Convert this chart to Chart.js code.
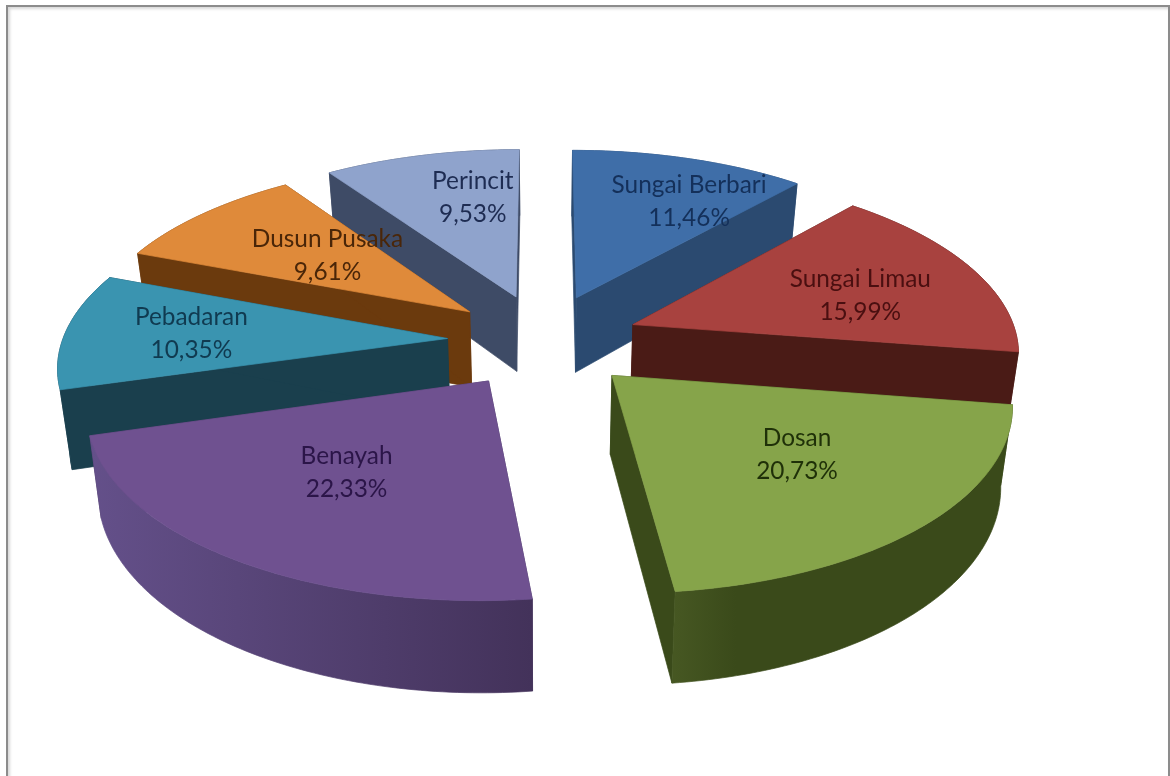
<!DOCTYPE html>
<html>
<head>
<meta charset="utf-8">
<script src="https://cdn.jsdelivr.net/npm/chart.js@4/dist/chart.umd.min.js"></script>
<style>
html,body{margin:0;padding:0;background:#fff;overflow:hidden}
#wrap{position:absolute;left:0;top:0;width:1170px;height:776px;background:#fff}
#frame{position:absolute;left:6px;top:5px;width:1160px;height:780px;border:2px solid #8c8c8c;box-shadow:inset 2px 2px 3px #d8d8d8}
canvas{position:absolute;left:0;top:0}
</style>
</head>
<body>
<div id="wrap"><div id="frame"></div><canvas id="c" width="1170" height="776"></canvas></div>
<script>
const categories = ["Sungai Berbari","Sungai Limau","Dosan","Benayah","Pebadaran","Dusun Pusaka","Perincit"];
const percentValues = [11.46,15.99,20.73,22.33,10.35,9.61,9.53];
const percentLabels = ["11,46%","15,99%","20,73%","22,33%","10,35%","9,61%","9,53%"];
const topColors  = ["#3f6ea8","#a8423f","#86a44a","#6f5190","#3a94b0","#df8a3a","#8fa3cc"];
const wallColors = ["#2b4a70","#4a1b16","#3a4a1a","#483760","#1a3f4d","#6b3a0d","#3e4b66"];
const outerStart = ["#2b4a70","#4a1b16","#465722","#64508a","#1a3f4d","#6b3a0d","#3e4b66"];
const outerEnd   = ["#2b4a70","#4a1b16","#3a4a1a","#43325a","#1a3f4d","#6b3a0d","#3e4b66"];
const textColors = ["#14305a","#4a0f10","#1f3008","#2b1548","#103a50","#4a2608","#1e2c52"];
const labelRadius = [.71,.64,.59,.56,.67,.53,.66];
const labelShift  = [7.5,4.5,-3.3,2,-.2,2,5.6];

// view of the tilted pie
const VIEW = {cx:543.5, cy:340.5, rx:385, ry:178, persp:.135, explodeU:.25, explodeV:.265, depth:77, shrink:.975};
function project(u,v){
  const s = 1/(1-VIEW.persp*v);
  return {x:VIEW.cx+VIEW.rx*u*s, y:VIEW.cy+VIEW.ry*v*s, s};
}
function lower(p){
  return {x:VIEW.cx+(p.x-VIEW.cx)*VIEW.shrink, y:p.y+VIEW.depth*p.s};
}
// arc angle (Chart.js radians, -PI/2 = top) to ground-plane direction
const dir = a => ({u:Math.cos(a), v:Math.sin(a)});

function path(ctx,pts){
  ctx.beginPath();
  pts.forEach((p,i)=> i ? ctx.lineTo(p.x,p.y) : ctx.moveTo(p.x,p.y));
  ctx.closePath();
}

const pie3d = {
  id:'pie3d',
  beforeDatasetDraw(chart,args){
    const ctx = chart.ctx;
    const arcs = args.meta.data;
    const shapes = arcs.map((arc,i)=>{
      const mid = (arc.startAngle+arc.endAngle)/2, d = dir(mid);
      const a0 = {u:d.u*VIEW.explodeU, v:d.v*VIEW.explodeV};
      const rim = [];
      const n = Math.max(6,Math.round((arc.endAngle-arc.startAngle)*60));
      for(let k=0;k<=n;k++){
        const t = dir(arc.startAngle+(arc.endAngle-arc.startAngle)*k/n);
        rim.push(project(a0.u+t.u,a0.v+t.v));
      }
      return {i,arc,a0,rim,apex:project(a0.u,a0.v),order:a0.v};
    });
    shapes.sort((a,b)=>a.order-b.order);
    shapes.forEach(sh=>{
      const {i,rim,apex,arc} = sh;
      const low = rim.map(lower), lowApex = lower(apex);
      ctx.save();
      ctx.fillStyle = wallColors[i];
      ctx.strokeStyle = wallColors[i];
      ctx.lineWidth = .7;
      [[apex,rim[0],low[0],lowApex],[apex,rim[rim.length-1],low[low.length-1],lowApex]].forEach(q=>{
        path(ctx,q); ctx.fill(); ctx.stroke();
      });
      const xs = rim.map(p=>p.x);
      const g = ctx.createLinearGradient(Math.min(...xs),0,Math.max(...xs),0);
      if(i===2){
        g.addColorStop(0,outerStart[i]); g.addColorStop(.18,outerEnd[i]); g.addColorStop(1,outerEnd[i]);
      } else {
        g.addColorStop(0,outerStart[i]); g.addColorStop(1,outerEnd[i]);
      }
      ctx.fillStyle = g; ctx.strokeStyle = g;
      path(ctx,rim.concat(low.slice().reverse())); ctx.fill(); ctx.stroke();
      ctx.fillStyle = arc.options.backgroundColor;
      ctx.strokeStyle = arc.options.backgroundColor;
      path(ctx,[apex].concat(rim)); ctx.fill(); ctx.stroke();
      ctx.restore();
    });
    return false;
  },
  afterDatasetsDraw(chart){
    const ctx = chart.ctx;
    ctx.save();
    ctx.font = '24.4px Lato, "Open Sans", sans-serif';
    ctx.textAlign = 'center';
    ctx.textBaseline = 'middle';
    chart.getDatasetMeta(0).data.forEach((arc,i)=>{
      const mid = (arc.startAngle+arc.endAngle)/2, d = dir(mid);
      const t = dir(mid+labelShift[i]*Math.PI/180);
      const p = project(d.u*VIEW.explodeU+t.u*labelRadius[i], d.v*VIEW.explodeV+t.v*labelRadius[i]);
      ctx.fillStyle = textColors[i];
      ctx.fillText(categories[i],p.x,p.y-16.5);
      ctx.fillText(percentLabels[i],p.x,p.y+16.5);
    });
    ctx.restore();
  }
};

new Chart(document.getElementById('c'),{
  type:'pie',
  data:{labels:categories,datasets:[{data:percentValues,backgroundColor:topColors,borderWidth:0}]},
  options:{
    responsive:false,animation:false,
    rotation:0,
    plugins:{legend:{display:false},tooltip:{enabled:false}}
  },
  plugins:[pie3d]
});
</script>
</body>
</html>
